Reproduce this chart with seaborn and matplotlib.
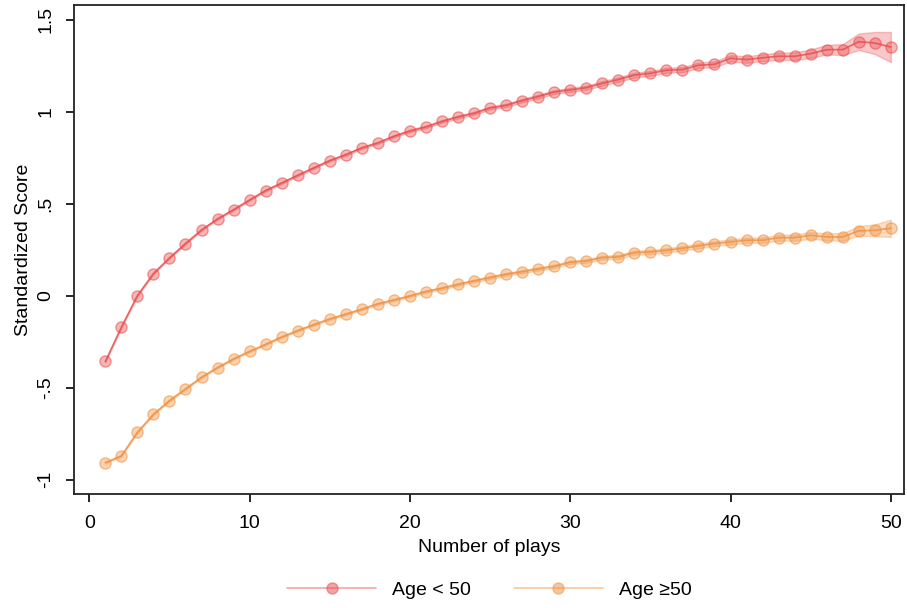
import pandas as pd
import numpy as np
import matplotlib
matplotlib.use("Agg")
import matplotlib.pyplot as plt
import seaborn as sns

# data
plays = list(range(1, 51))

young_mean = [-0.358, -0.172, 0.000, 0.120, 0.205, 0.283, 0.357, 0.417, 0.467, 0.520,
              0.571, 0.612, 0.654, 0.694, 0.734, 0.766, 0.803, 0.830, 0.866, 0.895,
              0.917, 0.947, 0.971, 0.991, 1.020, 1.034, 1.060, 1.082, 1.107, 1.118,
              1.130, 1.154, 1.174, 1.199, 1.208, 1.225, 1.228, 1.252, 1.257, 1.290,
              1.283, 1.293, 1.301, 1.301, 1.315, 1.337, 1.337, 1.380, 1.373, 1.351]
young_ci = [0.004, 0.004, 0.004, 0.004, 0.004, 0.004, 0.004, 0.004, 0.004, 0.004,
            0.005, 0.005, 0.005, 0.005, 0.005, 0.006, 0.006, 0.006, 0.006, 0.007,
            0.007, 0.007, 0.008, 0.008, 0.008, 0.009, 0.009, 0.010, 0.010, 0.011,
            0.011, 0.012, 0.012, 0.013, 0.013, 0.014, 0.014, 0.015, 0.016, 0.017,
            0.018, 0.019, 0.020, 0.021, 0.023, 0.026, 0.030, 0.045, 0.060, 0.082]

old_mean = [-0.908, -0.871, -0.743, -0.645, -0.571, -0.507, -0.444, -0.391, -0.344, -0.303,
            -0.265, -0.225, -0.190, -0.158, -0.127, -0.101, -0.074, -0.045, -0.024, -0.002,
            0.022, 0.040, 0.061, 0.080, 0.098, 0.116, 0.130, 0.145, 0.159, 0.181,
            0.188, 0.207, 0.210, 0.234, 0.237, 0.246, 0.257, 0.270, 0.283, 0.292,
            0.301, 0.301, 0.315, 0.315, 0.328, 0.319, 0.319, 0.352, 0.355, 0.366]
old_ci = [0.004, 0.004, 0.004, 0.004, 0.004, 0.004, 0.004, 0.004, 0.004, 0.004,
          0.004, 0.004, 0.005, 0.005, 0.005, 0.005, 0.005, 0.006, 0.006, 0.006,
          0.006, 0.007, 0.007, 0.007, 0.008, 0.008, 0.008, 0.009, 0.009, 0.009,
          0.010, 0.010, 0.011, 0.011, 0.011, 0.012, 0.012, 0.013, 0.013, 0.014,
          0.014, 0.015, 0.016, 0.017, 0.018, 0.019, 0.021, 0.026, 0.032, 0.047]

labels = ["Age < 50", "Age \u226550"]
colors = ["#e84a4c", "#ef8f3e"]

df = pd.DataFrame({
    "plays": plays * 2,
    "score": young_mean + old_mean,
    "ci": young_ci + old_ci,
    "group": [labels[0]] * 50 + [labels[1]] * 50,
})

sns.set_style("white")
plt.rcParams['font.family'] = ['Liberation Sans', 'DejaVu Sans']
plt.rcParams['text.color'] = 'black'
plt.rcParams['axes.labelcolor'] = 'black'
plt.rcParams['xtick.color'] = 'black'
plt.rcParams['ytick.color'] = 'black'

fig = plt.figure(figsize=(9.07, 6.08), dpi=100)
ax = fig.add_axes([0.0816, 0.187, 0.9154, 0.804])

for lab, col in zip(labels, colors):
    sub = df[df.group == lab]
    ax.fill_between(sub.plays, sub.score - sub.ci, sub.score + sub.ci,
                    color=col, alpha=0.3, linewidth=1, edgecolor=col)
    sns.lineplot(x="plays", y="score", data=sub, ax=ax, color=col,
                 linewidth=1.2, marker="o", markersize=8,
                 markeredgewidth=1.0, label=lab, errorbar=None)

# semi transparent lines and markers, like the original
for line in ax.lines:
    c = line.get_color()
    line.set_alpha(None)
    line.set_color(matplotlib.colors.to_rgba(c, 0.8))
    line.set_markerfacecolor(matplotlib.colors.to_rgba(c, 0.4))
    line.set_markeredgecolor(matplotlib.colors.to_rgba(c, 0.55))

ax.set_xlim(-0.955, 50.84)
ax.set_ylim(-1.08, 1.577)
ax.set_xticks([0, 10, 20, 30, 40, 50])
ax.set_yticks([-1, -0.5, 0, 0.5, 1, 1.5])
ax.set_yticklabels(["-1", "-.5", "0", ".5", "1", "1.5"], rotation=90, va="center")
ax.tick_params(axis="both", direction="out", length=6, width=1.2, labelsize=14,
               bottom=True, left=True)
ax.tick_params(axis="x", pad=9)
ax.tick_params(axis="y", pad=8)

for s in ax.spines.values():
    s.set_color("#222222")
    s.set_linewidth(1.3)

ax.set_xlabel("Number of plays", fontsize=14, labelpad=5)
ax.set_ylabel("Standardized Score", fontsize=14, labelpad=4)

leg = ax.legend(loc="upper center", bbox_to_anchor=(0.5, -0.142), ncol=2,
                frameon=False, fontsize=14, handlelength=4.6, columnspacing=2.2,
                handletextpad=0.8)
for h in leg.legend_handles:
    h.set_alpha(0.5)

fig.savefig("out.png", dpi=100)
